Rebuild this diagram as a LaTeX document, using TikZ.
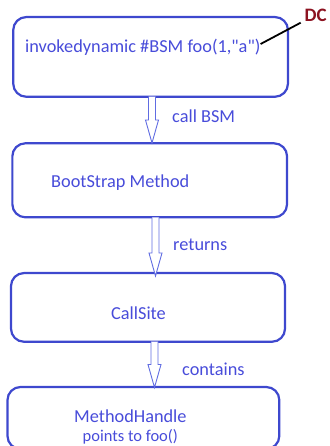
\documentclass[tikz,border=0pt]{standalone}
\usepackage{fontspec}
\setmainfont{Carlito}
\usetikzlibrary{calc}
\definecolor{boxblue}{RGB}{62,72,206}
\definecolor{txtblue}{RGB}{72,76,218}
\definecolor{arrowblue}{RGB}{96,108,226}
\definecolor{dcred}{RGB}{140,18,32}
\tikzset{
  box/.style={draw=boxblue, line width=2.2pt, rounded corners=13pt, fill=white, inner sep=0pt},
  boxtext/.style={text=txtblue, font=\fontsize{18.3}{20}\selectfont, inner sep=0pt, anchor=west},
  smalltext/.style={text=txtblue, font=\fontsize{16.5}{18}\selectfont, inner sep=0pt, anchor=west},
  flowlabel/.style={text=txtblue, font=\fontsize{18.3}{20}\selectfont, inner sep=0pt, anchor=west},
  harrow/.style={draw=arrowblue, line width=0.9pt, fill=white, line join=miter},
}
% hollow block arrow from #1 down to #2
\newcommand\blockarrow[2]{%
  \draw[harrow] let \p1=(#1), \p2=(#2) in
    (\x1-3.5pt,\y1) -- (\x1-3.5pt,\y2+23pt) -- (\x1-6.5pt,\y2+23pt) -- (\x2,\y2)
    -- (\x1+6.5pt,\y2+23pt) -- (\x1+3.5pt,\y2+23pt) -- (\x1+3.5pt,\y1);}
\begin{document}
\begin{tikzpicture}[x=1pt,y=-1pt]
\useasboundingbox (0,0) rectangle (329,446);
% boxes
\node[box, minimum width=274.7pt, minimum height=79.7pt] (b1) at (150.6,56.9) {};
\node[box, minimum width=274.7pt, minimum height=74pt] (b2) at (149.7,180.3) {};
\node[box, minimum width=274pt, minimum height=68.7pt] (b3) at (148,307.4) {};
\node[box, minimum width=271.8pt, minimum height=62pt] (b4) at (143.4,418) {};
% connectors between boxes
\coordinate (s1) at (152,96.7);  \coordinate (e1) at (152,143);
\coordinate (s2) at (155.5,217.3); \coordinate (e2) at (155.5,276);
\coordinate (s3) at (154.5,341.7); \coordinate (e3) at (154.5,387.5);
\blockarrow{s1}{e1}
\blockarrow{s2}{e2}
\blockarrow{s3}{e3}
% box texts
\node[boxtext] (t1) at (25,47) {invokedynamic \#BSM foo(1,\textquotedbl a\textquotedbl)};
\node[boxtext] (t2) at (51,183) {BootStrap Method};
\node[boxtext] (t3) at (111,313) {CallSite};
\node[boxtext] (t4) at (74,416.7) {MethodHandle};
\node[smalltext] (t5) at (82.5,436.7) {points to foo()};
% connector labels
\node[flowlabel] (l1) at (172,116.7) {call BSM};
\node[flowlabel] (l2) at (173,244.3) {returns};
\node[flowlabel] (l3) at (182,369) {contains};
% call-site pointer
\node[text=dcred, font=\bfseries\fontsize{19}{21}\selectfont, inner sep=0pt, anchor=west] (dc) at (304.5,15.5) {DC};
\coordinate (dcend) at (300.7,22.7);
\draw[line width=1.8pt, black] (t1.east) ++(0,-3) -- (dcend);
\end{tikzpicture}
\end{document}
